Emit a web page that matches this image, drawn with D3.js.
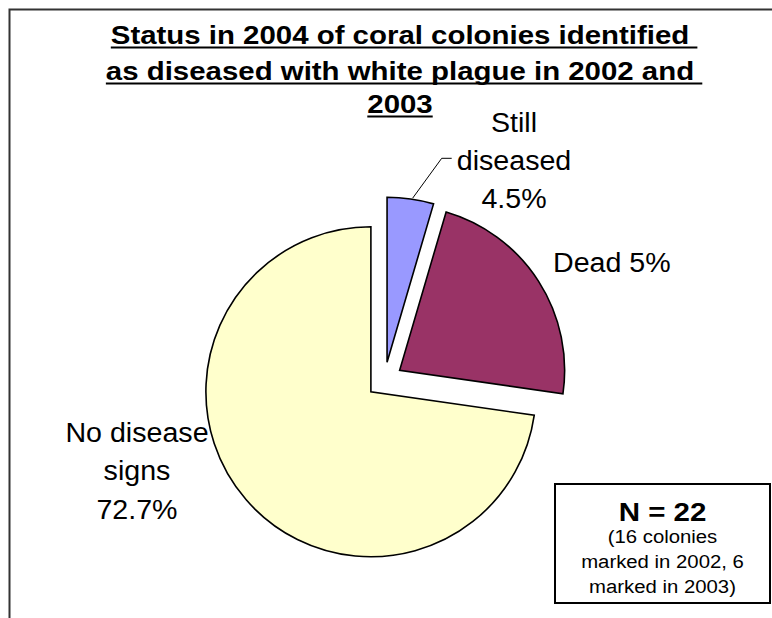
<!DOCTYPE html>
<html>
<head>
<meta charset="utf-8">
<script src="https://cdn.jsdelivr.net/npm/d3@7/dist/d3.min.js"></script>
<style>
  html, body { margin: 0; padding: 0; background: #ffffff; }
  svg { display: block; }
  text { font-family: "Liberation Sans", Arial, Helvetica, sans-serif; fill: #000; }
</style>
</head>
<body>
<svg id="chart" width="772" height="618"></svg>
<script>
// Colony status in 2004 (counts out of N = 22)
const categories = ["Still diseased", "Dead", "No disease signs"];
const colonies = [1, 5, 16];
const sliceColors = ["#9999FF", "#993366", "#FFFFCC"];
const sliceLabels = [
  ["Still", "diseased", "4.5%"],
  ["Dead 5%"],
  ["No disease", "signs", "72.7%"]
];
const titleLines = [
  "Status in 2004 of coral colonies identified ",
  "as diseased with white plague in 2002 and ",
  "2003"
];
const sampleHeading = "N = 22";
const sampleNote = ["(16 colonies", "marked in 2002, 6", "marked in 2003)"];

const svg = d3.select("#chart");
const W = 772, H = 618;

// chart area border (top and left edges)
svg.append("path")
  .attr("d", `M9.5,${H} L9.5,9.5 L${W},9.5`)
  .attr("fill", "none")
  .attr("stroke", "#333")
  .attr("stroke-width", 2);

// helper: text drawn with a slight horizontal stretch
function stretchedText(parent, str, x, y, size, weight, sx, anchor) {
  const g = parent.append("g").attr("transform", `translate(${x},${y}) scale(${sx},1)`);
  const t = g.append("text")
    .attr("text-anchor", anchor || "middle")
    .style("font-size", size + "px")
    .style("font-weight", weight)
    .text(str);
  return { g, t };
}

// ---- title (bold, underlined, centred) ----
const titleSize = 26.5, titleSx = 1.11, titleCx = 400;
const titleY = [43.5, 79.5, 112.5];
titleLines.forEach((line, i) => {
  const g = svg.append("g").attr("transform", `translate(${titleCx},${titleY[i]}) scale(${titleSx},1)`);
  const t = g.append("text")
    .attr("xml:space", "preserve")
    .style("white-space", "pre")
    .style("font-size", titleSize + "px")
    .style("font-weight", "bold")
    .attr("text-anchor", "start")
    .text(line);
  const full = t.node().getComputedTextLength();
  const probe = g.append("text")
    .style("font-size", titleSize + "px")
    .style("font-weight", "bold")
    .text(line.trim());
  const trimmed = probe.node().getComputedTextLength();
  probe.remove();
  t.attr("x", -trimmed / 2);
  g.append("rect")
    .attr("x", -trimmed / 2)
    .attr("y", 3)
    .attr("width", full)
    .attr("height", 2)
    .attr("fill", "#000");
});

// ---- pie ----
const cx = 384.5, cy = 380, radius = 165, explode = 18;
const pie = d3.pie().sort(null).startAngle(0).endAngle(2 * Math.PI);
const arc = d3.arc().innerRadius(0).outerRadius(radius);
const arcs = pie(colonies);

const pieG = svg.append("g").attr("transform", `translate(${cx},${cy})`);
pieG.selectAll("path.slice")
  .data(arcs)
  .join("path")
  .attr("class", "slice")
  .attr("transform", d => {
    const a = (d.startAngle + d.endAngle) / 2;
    return `translate(${explode * Math.sin(a)},${-explode * Math.cos(a)})`;
  })
  .attr("d", arc)
  .attr("fill", (d, i) => sliceColors[i])
  .attr("stroke", "#000")
  .attr("stroke-width", 1.6)
  .attr("stroke-linejoin", "miter");

// ---- slice labels ----
const labelSize = 27, labelSx = 1.06;
const lineGap = 38.3;
// Still diseased
sliceLabels[0].forEach((s, i) => stretchedText(svg, s, 514, 131.5 + i * lineGap, labelSize, "normal", labelSx, "middle"));
// Dead
sliceLabels[1].forEach((s, i) => stretchedText(svg, s, 553, 271.5 + i * lineGap, labelSize, "normal", labelSx, "start"));
// No disease signs
sliceLabels[2].forEach((s, i) => stretchedText(svg, s, 137, 442 + i * lineGap, labelSize, "normal", labelSx, "middle"));

// leader line from the small slice to its label
{
  const d = arcs[0];
  const a = (d.startAngle + d.endAngle) / 2;
  const ox = cx + explode * Math.sin(a), oy = cy - explode * Math.cos(a);
  const sx0 = ox + (radius + 1) * Math.sin(a + 0.012), sy0 = oy - (radius + 1) * Math.cos(a + 0.012);
  svg.append("path")
    .attr("d", `M${sx0},${sy0} L441.7,158.3 L451.7,158.3`)
    .attr("fill", "none")
    .attr("stroke", "#000")
    .attr("stroke-width", 1);
}

// ---- sample size box ----
const box = { x: 555, y: 484, w: 215, h: 119 };
svg.append("rect")
  .attr("x", box.x).attr("y", box.y)
  .attr("width", box.w).attr("height", box.h)
  .attr("fill", "#fff")
  .attr("stroke", "#000")
  .attr("stroke-width", 2);
const boxCx = box.x + box.w / 2;
stretchedText(svg, sampleHeading, boxCx, 521, 25, "bold", 1.18, "middle");
sampleNote.forEach((s, i) => stretchedText(svg, s, boxCx, 543 + i * 25, 18, "normal", 1.13, "middle"));
</script>
</body>
</html>
